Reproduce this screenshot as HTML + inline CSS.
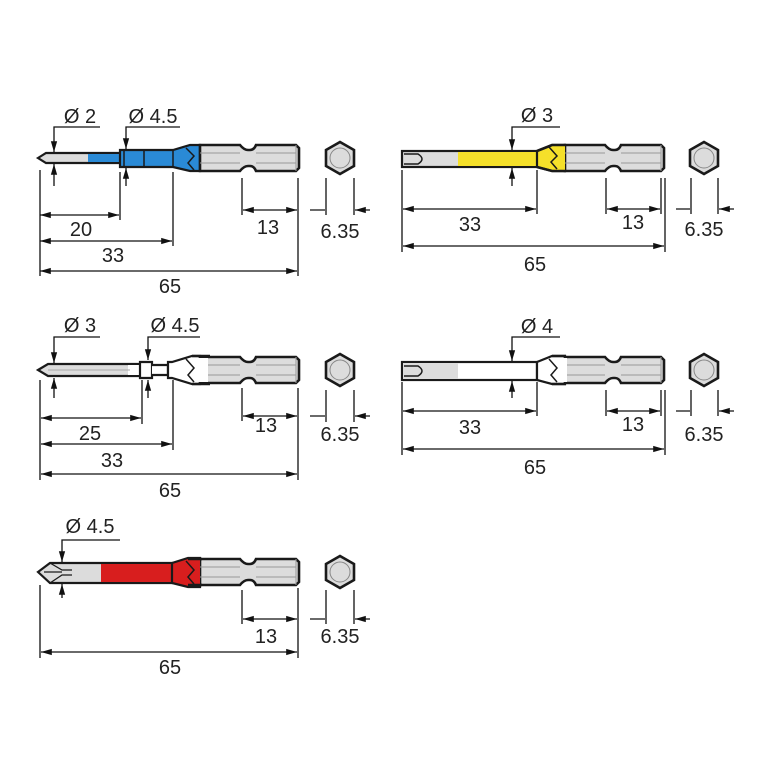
<!DOCTYPE html>
<html><head><meta charset="utf-8"><style>
html,body{margin:0;padding:0;background:#fff}
svg{display:block}
text{font-family:"Liberation Sans",sans-serif;font-size:20px;fill:#222;text-anchor:middle}
</style></head><body>
<svg width="768" height="768" viewBox="0 0 768 768" xmlns="http://www.w3.org/2000/svg">
<defs>
<marker id="a" viewBox="0 0 12 10" refX="12" refY="5" markerWidth="11" markerHeight="9" orient="auto-start-reverse" markerUnits="userSpaceOnUse"><path d="M0,1.5 L12,5 L0,8.5 Z" fill="#111"/></marker>
<g id="shank">
<path d="M0,-13 L40,-13 Q44,-8 48,-8 L50,-8 Q54,-8 56,-13 L96,-13 L99,-10 L99,10 L96,13 L56,13 Q54,8 50,8 L48,8 Q44,8 40,13 L0,13 Z" fill="#dcdcdc" stroke="#1a1a1a" stroke-width="2.6"/>
<path d="M0,-5 L40,-5 M0,5 L40,5 M56,-5 L96,-5 M56,5 L96,5 M96,-13 L96,13" stroke="#999" stroke-width="1"/>
</g>
<g id="hex">
<polygon points="0,-16 14,-8 14,8 0,16 -14,8 -14,-8" fill="#dcdcdc" stroke="#1a1a1a" stroke-width="2.6"/>
<circle r="10" fill="none" stroke="#888" stroke-width="1"/>
</g>
</defs>
<g stroke="#111" stroke-width="1.3" fill="none">

<!-- ===== Bit 1 ===== -->
<path d="M38,158 L46,153 L120,153 L120,163 L46,163 Z" fill="#dcdcdc" stroke="#1a1a1a" stroke-width="2.2"/>
<rect x="88" y="154" width="32" height="8" fill="#2a8ad6" stroke="none"/>
<path d="M120,150 L173,150 L190,145 L200,145 L200,171 L190,171 L173,167 L120,167 Z" fill="#2a8ad6" stroke="#1a1a1a" stroke-width="2.2"/>
<path d="M124,150 L124,167 M144,150 L144,167 M173,150 L173,167" stroke="#1a1a1a" stroke-width="1.5"/>
<use href="#shank" x="200" y="158"/>
<path d="M186,148 L194,156 L188,163 L194,170" stroke="#1a1a1a" stroke-width="1.5"/>
<use href="#hex" x="340" y="158"/>
<path d="M100,127 L54,127 L54,152" marker-end="url(#a)"/>
<path d="M54,186 L54,164" marker-end="url(#a)"/>
<path d="M180,127 L126,127 L126,149" marker-end="url(#a)"/>
<path d="M126,186 L126,168" marker-end="url(#a)"/>
<path d="M40,170 L40,276 M120,172 L120,220 M173,172 L173,246 M298,178 L298,276 M242,178 L242,215 M326,178 L326,215 M354,178 L354,215"/>
<path d="M40,215 L119,215" marker-start="url(#a)" marker-end="url(#a)"/>
<path d="M40,241 L172,241" marker-start="url(#a)" marker-end="url(#a)"/>
<path d="M40,271 L297,271" marker-start="url(#a)" marker-end="url(#a)"/>
<path d="M243,210 L297,210" marker-start="url(#a)" marker-end="url(#a)"/>
<path d="M310,210 L325,210 M370,210 L355,210" marker-end="url(#a)"/>

<!-- ===== Bit 2 ===== -->
<rect x="402" y="151" width="135" height="16" fill="#dcdcdc" stroke="#1a1a1a" stroke-width="2.2"/>
<rect x="458" y="152" width="79" height="14" fill="#f5e02a" stroke="none"/>
<path d="M404,154 L418,154 Q426,159 418,164 L404,164" fill="none" stroke="#1a1a1a" stroke-width="1.5"/>
<path d="M537,151 L552,145 L565,145 L565,171 L552,171 L537,167 Z" fill="#f5e02a" stroke="#1a1a1a" stroke-width="2.2"/>
<use href="#shank" x="565" y="158"/>
<rect x="552" y="146" width="13" height="24" fill="#f5e02a" stroke="none"/>
<path d="M537,151 L552,145 L566,145 M537,167 L552,171 L566,171" stroke="#1a1a1a" stroke-width="2.6"/>
<path d="M549,147 L557,156 L551,162 L557,169" stroke="#1a1a1a" stroke-width="1.5"/>
<use href="#hex" x="704" y="158"/>
<path d="M560,127 L512,127 L512,150" marker-end="url(#a)"/>
<path d="M512,186 L512,168" marker-end="url(#a)"/>
<path d="M402,170 L402,252 M537,170 L537,214 M606,178 L606,214 M661,178 L661,214 M665,178 L665,252 M691,178 L691,214 M718,178 L718,214"/>
<path d="M403,209 L536,209" marker-start="url(#a)" marker-end="url(#a)"/>
<path d="M607,209 L660,209" marker-start="url(#a)" marker-end="url(#a)"/>
<path d="M403,246 L664,246" marker-start="url(#a)" marker-end="url(#a)"/>
<path d="M676,209 L690,209 M734,209 L719,209" marker-end="url(#a)"/>

<!-- ===== Bit 3 ===== -->
<path d="M38,370 L48,364 L140,364 L140,376 L48,376 Z" fill="#dcdcdc" stroke="#1a1a1a" stroke-width="2.2"/>
<rect x="128" y="365" width="12" height="10" fill="#fff" stroke="none"/>
<path d="M48,370 L130,370" stroke="#aaa" stroke-width="1"/>
<path d="M140,362 L152,362 L152,378 L140,378 Z" fill="#fff" stroke="#1a1a1a" stroke-width="2.2"/>
<path d="M152,365 L168,365 L168,375 L152,375" fill="#fff" stroke="#1a1a1a" stroke-width="2.2"/>
<path d="M168,362 L172,362 L192,356 L200,356 L200,384 L192,384 L172,378 L168,378 Z" fill="#fff" stroke="#1a1a1a" stroke-width="2.2"/>
<use href="#shank" x="200" y="370"/>
<rect x="196" y="358" width="12" height="24" fill="#fff" stroke="none"/>
<path d="M192,356 L210,356 M192,384 L210,384" stroke="#1a1a1a" stroke-width="2.6"/>
<path d="M186,359 L194,368 L188,375 L194,382" stroke="#1a1a1a" stroke-width="1.5"/>
<use href="#hex" x="340" y="370"/>
<path d="M100,337 L54,337 L54,363" marker-end="url(#a)"/>
<path d="M54,398 L54,378" marker-end="url(#a)"/>
<path d="M200,337 L148,337 L148,360" marker-end="url(#a)"/>
<path d="M148,398 L148,380" marker-end="url(#a)"/>
<path d="M40,380 L40,480 M142,380 L142,424 M173,380 L173,450 M298,388 L298,480 M242,388 L242,421 M326,390 L326,422 M354,390 L354,422"/>
<path d="M41,418 L141,418" marker-start="url(#a)" marker-end="url(#a)"/>
<path d="M41,444 L172,444" marker-start="url(#a)" marker-end="url(#a)"/>
<path d="M41,474 L297,474" marker-start="url(#a)" marker-end="url(#a)"/>
<path d="M243,416 L297,416" marker-start="url(#a)" marker-end="url(#a)"/>
<path d="M310,416 L325,416 M370,416 L355,416" marker-end="url(#a)"/>

<!-- ===== Bit 4 ===== -->
<rect x="402" y="362" width="135" height="18" fill="#fff" stroke="#1a1a1a" stroke-width="2.2"/>
<rect x="403" y="363" width="55" height="16" fill="#dcdcdc" stroke="none"/>
<path d="M404,366 L418,366 Q426,371 418,376 L404,376" fill="none" stroke="#1a1a1a" stroke-width="1.5"/>
<path d="M537,362 L552,356 L565,356 L565,384 L552,384 L537,380 Z" fill="#fff" stroke="#1a1a1a" stroke-width="2.2"/>
<use href="#shank" x="565" y="370"/>
<rect x="561" y="358" width="6" height="24" fill="#fff" stroke="none"/>
<path d="M552,356 L566,356 M552,384 L566,384" stroke="#1a1a1a" stroke-width="2.6"/>
<path d="M549,359 L557,368 L551,375 L557,382" stroke="#1a1a1a" stroke-width="1.5"/>
<use href="#hex" x="704" y="370"/>
<path d="M560,337 L512,337 L512,361" marker-end="url(#a)"/>
<path d="M512,398 L512,381" marker-end="url(#a)"/>
<path d="M402,382 L402,455 M537,382 L537,416 M606,390 L606,416 M661,390 L661,416 M665,390 L665,455 M691,390 L691,416 M718,390 L718,416"/>
<path d="M403,411 L536,411" marker-start="url(#a)" marker-end="url(#a)"/>
<path d="M607,411 L660,411" marker-start="url(#a)" marker-end="url(#a)"/>
<path d="M403,449 L664,449" marker-start="url(#a)" marker-end="url(#a)"/>
<path d="M676,411 L690,411 M734,411 L719,411" marker-end="url(#a)"/>

<!-- ===== Bit 5 ===== -->
<path d="M38,572 L50,563 L172,563 L172,583 L50,583 Z" fill="#dcdcdc" stroke="#1a1a1a" stroke-width="2.2"/>
<rect x="101" y="564" width="71" height="18" fill="#d81e1e" stroke="none"/>
<path d="M50,563 L62,570 L72,570 M50,583 L62,575 L72,575 M44,572 L62,572" stroke="#1a1a1a" stroke-width="1.3"/>
<path d="M172,563 L188,558 L200,558 L200,587 L188,587 L172,583 Z" fill="#d81e1e" stroke="#1a1a1a" stroke-width="2.2"/>
<use href="#shank" x="200" y="572"/>
<rect x="196" y="560" width="4" height="25" fill="#d81e1e" stroke="none"/>
<path d="M188,559 L202,559 M188,585 L202,585" stroke="#1a1a1a" stroke-width="2.6"/>
<path d="M186,561 L194,570 L188,577 L194,584" stroke="#1a1a1a" stroke-width="1.5"/>
<use href="#hex" x="340" y="572"/>
<path d="M120,540 L62,540 L62,562" marker-end="url(#a)"/>
<path d="M62,598 L62,584" marker-end="url(#a)"/>
<path d="M40,585 L40,658 M298,588 L298,658 M242,590 L242,624 M326,590 L326,624 M354,590 L354,624"/>
<path d="M243,619 L297,619" marker-start="url(#a)" marker-end="url(#a)"/>
<path d="M41,652 L297,652" marker-start="url(#a)" marker-end="url(#a)"/>
<path d="M310,619 L325,619 M370,619 L355,619" marker-end="url(#a)"/>
</g>

<!-- labels -->
<text x="80" y="123">Ø 2</text>
<text x="153" y="123">Ø 4.5</text>
<text x="81" y="236">20</text>
<text x="113" y="262">33</text>
<text x="170" y="293">65</text>
<text x="268" y="234">13</text>
<text x="340" y="238">6.35</text>

<text x="537" y="122">Ø 3</text>
<text x="470" y="231">33</text>
<text x="633" y="229">13</text>
<text x="535" y="271">65</text>
<text x="704" y="236">6.35</text>

<text x="80" y="332">Ø 3</text>
<text x="175" y="332">Ø 4.5</text>
<text x="90" y="440">25</text>
<text x="112" y="467">33</text>
<text x="170" y="497">65</text>
<text x="266" y="432">13</text>
<text x="340" y="441">6.35</text>

<text x="537" y="333">Ø 4</text>
<text x="470" y="434">33</text>
<text x="633" y="431">13</text>
<text x="535" y="474">65</text>
<text x="704" y="441">6.35</text>

<text x="90" y="533">Ø 4.5</text>
<text x="266" y="643">13</text>
<text x="340" y="643">6.35</text>
<text x="170" y="674">65</text>
</svg>
</body></html>
